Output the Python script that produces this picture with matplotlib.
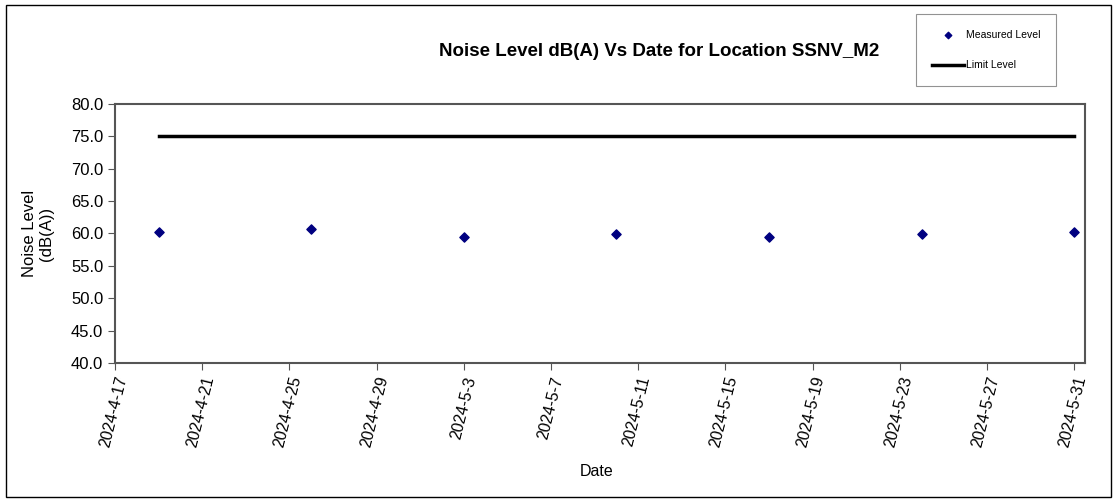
import matplotlib
matplotlib.use("Agg")
import matplotlib.pyplot as plt
import pandas as pd
from matplotlib.patches import Rectangle

plt.rcParams['font.family'] = ['Liberation Sans', 'DejaVu Sans']

# --- datos ---
fechas = pd.to_datetime(["2024-04-19", "2024-04-26", "2024-05-03", "2024-05-10",
                         "2024-05-17", "2024-05-24", "2024-05-31"])
nivel_medido = [60.3, 60.7, 59.4, 59.9, 59.4, 59.9, 60.3]
limite = [75.0] * len(fechas)

fig = plt.figure(figsize=(11.17, 5.03), dpi=100)
ax = fig.add_axes([115 / 1117, 1 - 363 / 503, (1085 - 115) / 1117, (363 - 104) / 503])

ax.plot(fechas, limite, color='black', linewidth=2.5, label='Limit Level', zorder=2)
ax.scatter(fechas, nivel_medido, marker='D', s=22, color='#000080', label='Measured Level', zorder=3)

ax.set_ylim(40, 80)
ax.set_yticks(range(40, 81, 5))
ax.yaxis.set_major_formatter(matplotlib.ticker.FormatStrFormatter('%.1f'))
ax.set_xlim(pd.Timestamp("2024-04-17"), pd.Timestamp("2024-05-31 12:00"))
ticks = pd.date_range("2024-04-17", "2024-05-31", freq="4D")
ax.set_xticks(ticks)
ax.set_xticklabels([f"{t.year}-{t.month}-{t.day}" for t in ticks], rotation=76,
                   ha='right', va='top', rotation_mode='anchor', fontsize=11.5)
ax.tick_params(axis='y', labelsize=12, direction='out', length=5, color='#555555')
ax.tick_params(axis='x', direction='out', length=5, color='#555555')

for lado in ['top', 'right', 'bottom', 'left']:
    ax.spines[lado].set_color('#555555')
    ax.spines[lado].set_linewidth(1.5)

ax.set_ylabel('Noise Level\n(dB(A))', fontsize=12, labelpad=12)
ax.set_xlabel('Date', fontsize=11.5)
ax.xaxis.set_label_coords(0.497, -0.39)

fig.text(659 / 1117, 1 - 52 / 503, 'Noise Level dB(A) Vs Date for Location SSNV_M2',
         ha='center', va='center', fontsize=13.5, fontweight='bold')

leg = fig.legend(handles=[ax.collections[0], ax.lines[0]], labels=['Measured Level', 'Limit Level'],
                 loc='upper left', bbox_to_anchor=(916 / 1117, 1 - 14 / 503), borderaxespad=0,
                 fontsize=7.5, frameon=True, fancybox=False, edgecolor='#777777',
                 labelspacing=2.0, handlelength=3.1, handletextpad=0.2, borderpad=1.5,
                 scatterpoints=1, markerscale=0.7)
leg.get_frame().set_linewidth(0.8)

# marco exterior
fig.patches.append(Rectangle((6 / 1117, 6 / 503), 1 - 12 / 1117, 1 - 11 / 503,
                             transform=fig.transFigure, fill=False, edgecolor='black',
                             linewidth=1.0))

fig.savefig('out.png', dpi=100)
